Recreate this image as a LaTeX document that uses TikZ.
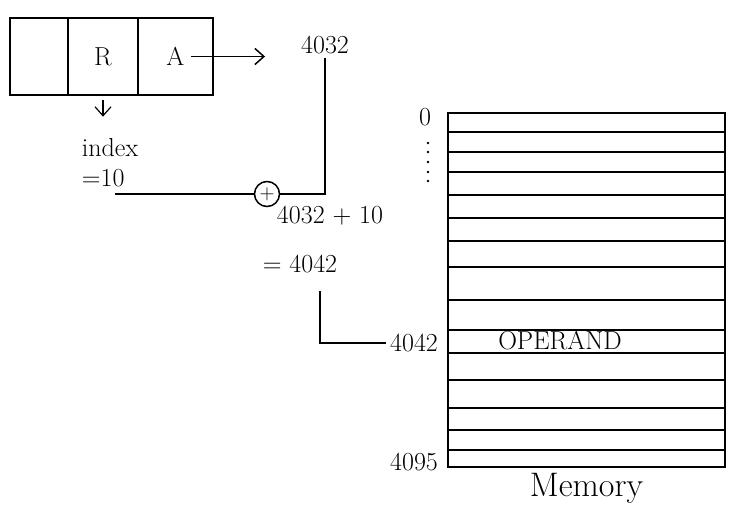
\documentclass[tikz,border=0pt]{standalone}
\usetikzlibrary{positioning,arrows.meta}

\begin{document}
\begin{tikzpicture}[x=1pt,y=-1pt,line width=1.5pt,>={Straight Barb[length=9pt,width=16pt]},
  every node/.style={font=\fontsize{26}{30}\selectfont},
  cell/.style={draw,outer sep=0pt,minimum height=77pt}]
\useasboundingbox (0,0) rectangle (746,529);

% instruction word
\node[cell,minimum width=58pt,anchor=north west] (mode) at (10,18) {};
\node[cell,minimum width=70pt,right=0pt of mode] (regf) {R};
\node[cell,minimum width=75pt,right=0pt of regf] (addr) {A};

\node (ea) at (325,45) {4032};
\node[align=left] (idx) at (110,163) {index\\=10};
\node[draw,circle,inner sep=0pt,minimum size=25pt,font=\fontsize{22}{26}\selectfont] (plus) at (267,194) {$+$};
\node (sum) at (330,216) {4032 + 10};
\node (res) at (300,264) {= 4042};
\coordinate (ival) at (115,194);

% memory
\node[draw,outer sep=0pt,minimum width=277pt,minimum height=354pt,anchor=north west] (mem) at (448,113) {};
\foreach \y in {132,152,172,195,218,241,267,300,330,353,380,408,430,450}
  \draw (mem.west |- 0,\y) -- (mem.east |- 0,\y);
\node (zero) at (425,117) {0};
\foreach \y in {143,152,162,172,181}
  \fill (428,\y) circle (1.3pt);
\node at (560,341) (opnd) {OPERAND};
\node (eff) at (414,343) {4042};
\node (last) at (414,462) {4095};
\node[font=\fontsize{34}{38}\selectfont,below=2pt of mem] (memlbl) {Memory};

\draw[->,shorten >=32pt] ([xshift=-22pt]addr.east) -- (addr.east -| ea.west);
\draw[->,line width=1.2pt,shorten <=5pt,shorten >=18pt] (regf.south) -- (regf.south |- idx.north);
\draw (ea.south) |- (plus.east);
\draw (ival) -- (plus.west);
\draw[shorten <=14pt] ([xshift=20pt]res.south) |- (eff.west);
\end{tikzpicture}
\end{document}
